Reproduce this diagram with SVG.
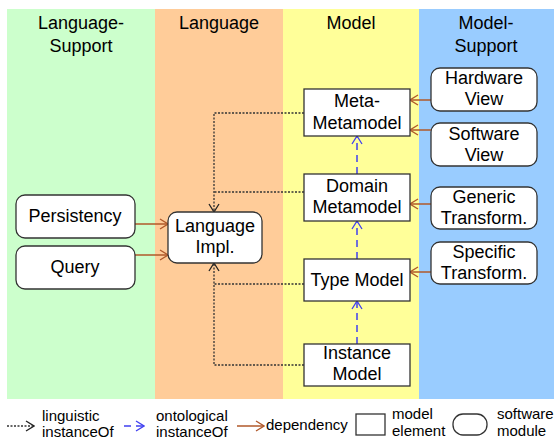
<svg xmlns="http://www.w3.org/2000/svg" width="554" height="442" viewBox="0 0 554 442">
<style>
text{font-family:"Liberation Sans",Arial,sans-serif;font-size:18px;fill:#000;text-anchor:middle}
.lg{font-size:15px;text-anchor:start}
.box{fill:#fff;stroke:#333;stroke-width:1.3}
.dep{fill:none;stroke:#b0582a;stroke-width:1.5}
.lin{fill:none;stroke:#333;stroke-width:1.3;stroke-dasharray:2 1.5}
.ont{fill:none;stroke:#4040f0;stroke-width:1.5;stroke-dasharray:7 5}
</style>
<defs>
<marker id="ad" markerWidth="10" markerHeight="12" refX="9" refY="6" orient="auto" markerUnits="userSpaceOnUse"><path d="M1,1 L9,6 L1,11" fill="none" stroke="#b0582a" stroke-width="1.3"/></marker>
<marker id="al" markerWidth="10" markerHeight="12" refX="9" refY="6" orient="auto" markerUnits="userSpaceOnUse"><path d="M1,1 L9,6 L1,11" fill="none" stroke="#222" stroke-width="1.3"/></marker>
<marker id="ao" markerWidth="10" markerHeight="12" refX="9" refY="6" orient="auto" markerUnits="userSpaceOnUse"><path d="M1,1 L9,6 L1,11" fill="none" stroke="#4040f0" stroke-width="1.3"/></marker>
</defs>
<g id="lanes">
<rect x="7" y="9" width="148" height="390" fill="#ccffcc"/>
<rect x="155" y="9" width="128" height="390" fill="#ffcc99"/>
<rect x="283" y="9" width="136" height="390" fill="#ffff99"/>
<rect x="419" y="9" width="135" height="390" fill="#99ccff"/>
<text x="81" y="29">Language-</text><text x="81" y="52">Support</text>
<text x="219" y="29">Language</text>
<text x="351" y="29">Model</text>
<text x="486" y="29">Model-</text><text x="486" y="52">Support</text>
</g>
<g id="connectors">
<path class="dep" d="M431,100 H410" marker-end="url(#ad)"/>
<path class="dep" d="M431,130 H410" marker-end="url(#ad)"/>
<path class="dep" d="M431,204 H410" marker-end="url(#ad)"/>
<path class="dep" d="M431,272 H410" marker-end="url(#ad)"/>
<path class="dep" d="M135,224 H168" marker-end="url(#ad)"/>
<path class="dep" d="M135,255 H168" marker-end="url(#ad)"/>
<path class="lin" d="M304,113 H214 V212" marker-end="url(#al)"/>
<path class="lin" d="M304,192 H214"/>
<path class="lin" d="M304,365 H214 V263" marker-end="url(#al)"/>
<path class="lin" d="M304,284 H214"/>
<path class="ont" d="M357,174 V136" marker-end="url(#ao)"/>
<path class="ont" d="M357,259 V221" marker-end="url(#ao)"/>
<path class="ont" d="M357,344 V301" marker-end="url(#ao)"/>
</g>
<g id="meta-metamodel"><rect class="box" x="304" y="89" width="106" height="47"/><text x="357" y="107">Meta-</text><text x="357" y="129">Metamodel</text></g>
<g id="domain-metamodel"><rect class="box" x="304" y="174" width="106" height="47"/><text x="357" y="192">Domain</text><text x="357" y="213">Metamodel</text></g>
<g id="type-model"><rect class="box" x="304" y="259" width="106" height="42"/><text x="357" y="286">Type Model</text></g>
<g id="instance-model"><rect class="box" x="304" y="344" width="106" height="42"/><text x="357" y="359">Instance</text><text x="357" y="380">Model</text></g>
<g id="hardware-view"><rect class="box" x="431" y="68" width="106" height="43" rx="9"/><text x="484" y="84">Hardware</text><text x="484" y="105">View</text></g>
<g id="software-view"><rect class="box" x="431" y="123" width="106" height="43" rx="9"/><text x="484" y="140">Software</text><text x="484" y="161">View</text></g>
<g id="generic-transform"><rect class="box" x="431" y="187" width="106" height="42" rx="9"/><text x="484" y="203">Generic</text><text x="484" y="224">Transform.</text></g>
<g id="specific-transform"><rect class="box" x="431" y="242" width="106" height="42" rx="9"/><text x="484" y="258">Specific</text><text x="484" y="279">Transform.</text></g>
<g id="persistency"><rect class="box" x="16" y="195" width="119" height="43" rx="9"/><text x="75" y="222">Persistency</text></g>
<g id="query"><rect class="box" x="16" y="246" width="119" height="43" rx="9"/><text x="75" y="273">Query</text></g>
<g id="language-impl"><rect class="box" x="168" y="212" width="94" height="51" rx="9"/><text x="215" y="232">Language</text><text x="215" y="253">Impl.</text></g>
<g id="legend">
<path class="lin" d="M7,426 H34" marker-end="url(#al)"/>
<text class="lg" x="42" y="421">linguistic</text><text class="lg" x="42" y="437">instanceOf</text>
<path class="ont" d="M124,426 H144" marker-end="url(#ao)"/>
<text class="lg" x="156" y="421">ontological</text><text class="lg" x="156" y="437">instanceOf</text>
<path class="dep" d="M237,426 H264" marker-end="url(#ad)"/>
<text class="lg" x="266" y="430">dependency</text>
<rect class="box" x="356" y="414" width="29" height="21"/>
<text class="lg" x="392" y="419">model</text><text class="lg" x="392" y="436">element</text>
<rect class="box" x="453" y="414" width="34" height="21" rx="10"/>
<text class="lg" x="497" y="419">software</text><text class="lg" x="497" y="436">module</text>
</g>
</svg>
